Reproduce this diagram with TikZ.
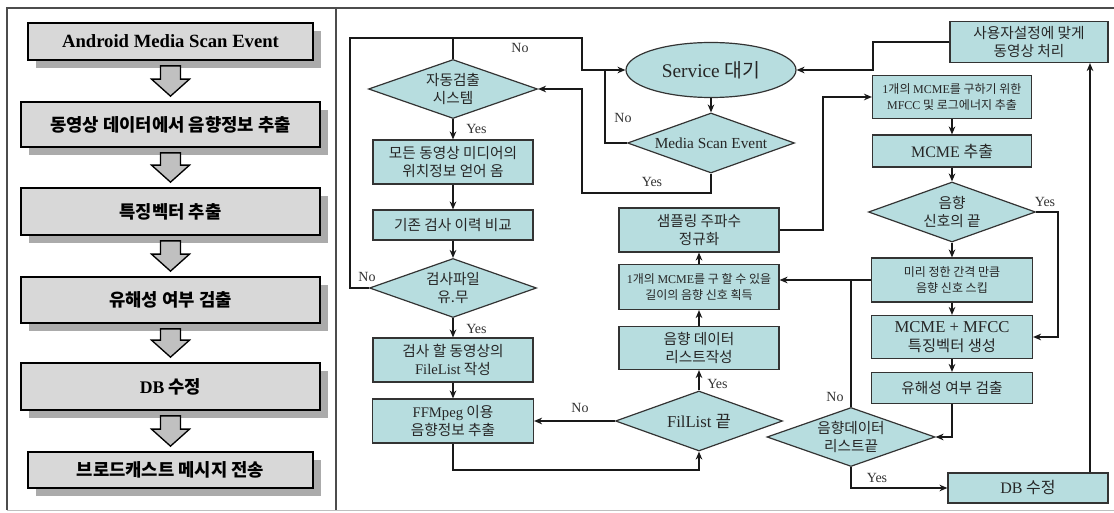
\documentclass[tikz,border=0pt]{standalone}
\usepackage{fontspec}
\setmainfont{Liberation Serif}
\newfontfamily\kr{Noto Sans CJK KR}
\usetikzlibrary{shapes.geometric,arrows.meta,calc,shadows}
\definecolor{tealbox}{RGB}{183,221,223}
\definecolor{lgray}{RGB}{216,216,216}
\definecolor{agray}{RGB}{192,192,192}
\newcommand\blockarrow[2]{%
  \draw[barr] ($(#1.south)+(-10,5)$) -- ($(#1.south)+(10,5)$) -- ($(#2.north)+(10,-22)$)
    -- ($(#2.north)+(19,-22)$) -- ($(#2.north)+(0,-5)$) -- ($(#2.north)+(-19,-22)$)
    -- ($(#2.north)+(-10,-22)$) -- cycle;}
\begin{document}
\begin{tikzpicture}[x=0.75pt,y=-0.75pt,
  sz/.style 2 args={minimum width=#1*0.75pt, minimum height=#2*0.75pt},
  lbox/.style={rectangle, draw=black, line width=1.3pt, fill=lgray, inner sep=0pt, align=center,
    drop shadow={shadow xshift=6pt, shadow yshift=-6pt, fill=black!60, opacity=0.55}},
  llat/.style={font=\bfseries\fontsize{14}{16}\selectfont},
  lkr/.style={font=\kr\bfseries\fontsize{13.3}{15}\selectfont},
  barr/.style={draw=black, line width=1pt, fill=agray, line join=miter},
  tbox/.style={rectangle, draw=black!80, line width=0.9pt, fill=tealbox, inner sep=0pt, align=center, text=black!85},
  tdia/.style={tbox, diamond, aspect=2.8},
  ktx/.style={font=\kr\fontsize{11}{13}\selectfont},
  ksm/.style={font=\kr\fontsize{9}{11.5}\selectfont},
  flow/.style={draw=black!90, line width=1pt},
  arr/.style={flow, -{Stealth[length=6pt,width=5pt]}},
  lab/.style={font=\fontsize{10.5}{12}\selectfont, text=black!80, inner sep=0pt},
]
\useasboundingbox (0,0) rectangle (1114,513);
\fill[white] (0,0) rectangle (1114,513);
% frame
\draw[black!70, line width=0.8pt] (7,510) -- (7,8) -- (1114,8);
\draw[black!70, line width=0.8pt] (336,8) -- (336,510);
\draw[black!25, line width=0.6pt] (7,510) -- (1114,510);

% ---------- left panel ----------
\node[lbox, sz={285}{37}, llat] (L1) at (170.5,41.5) {Android Media Scan Event};
\node[lbox, sz={299}{45}, lkr] (L2) at (170.5,124.5) {동영상 데이터에서 음향정보 추출};
\node[lbox, sz={299}{47}, lkr] (L3) at (170.5,211.5) {특징벡터 추출};
\node[lbox, sz={299}{46}, lkr] (L4) at (170.5,300) {유해성 여부 검출};
\node[lbox, sz={299}{47}, lkr] (L5) at (170.5,386.5) {{\rmfamily DB} 수정};
\node[lbox, sz={285}{36}, lkr] (L6) at (170.5,470) {브로드캐스트 메시지 전송};
\blockarrow{L1}{L2}
\blockarrow{L2}{L3}
\blockarrow{L3}{L4}
\blockarrow{L4}{L5}
\blockarrow{L5}{L6}

% ---------- right panel ----------
\node[tdia, sz={169}{59}, ktx] (auto) at (453,89) {자동검출\\시스템};
\node[tbox, sz={160}{44}, ktx] (loc) at (453,162) {모든 동영상 미디어의\\위치정보 얻어 옴};
\node[tbox, sz={160}{30}, ktx] (hist) at (453,225) {기존 검사 이력 비교};
\node[tdia, sz={167}{59}, ktx] (chk) at (453,288) {검사파일\\유.무};
\node[tbox, sz={160}{44}, ktx] (flist) at (453,360) {검사 할 동영상의\\{\rmfamily FileList} 작성};
\node[tbox, sz={161}{44}, ktx] (ffm) at (453,421) {{\rmfamily FFMpeg} 이용\\음향정보 추출};

\node[tbox, ellipse, sz={170}{55}, font=\fontsize{14.5}{16}\selectfont] (svc) at (711,70) {Service {\kr 대기}};
\node[tdia, sz={167}{60}, font=\fontsize{11.5}{13}\selectfont] (mse) at (711,143) {Media Scan Event};
\node[tbox, sz={160}{44}, ktx] (smp) at (699,230) {샘플링 주파수\\정규화};
\node[tbox, sz={160}{45}, ksm] (acq) at (699,287) {{\rmfamily 1}개의 {\rmfamily MCME}를 구 할 수 있을\\길이의 음향 신호 획득};
\node[tbox, sz={160}{43}, ktx] (alist) at (699,348) {음향 데이터\\리스트작성};
\node[tdia, sz={167}{60}, font=\fontsize{12.5}{14}\selectfont] (fend) at (699,421) {FilList {\kr 끝}};

\node[tbox, sz={158}{41}, ktx] (usr) at (1029,42) {사용자설정에 맞게\\동영상 처리};
\node[tbox, sz={159}{43}, ksm] (mfcc) at (952,97) {{\rmfamily 1}개의 {\rmfamily MCME}를 구하기 위한\\{\rmfamily MFCC} 및 로그에너지 추출};
\node[tbox, sz={159}{32}, font=\kr\fontsize{12}{14}\selectfont] (mcme) at (952,151) {{\rmfamily MCME} 추출};
\node[tdia, sz={167}{60}, ktx] (send) at (952,212) {음향\\신호의 끝};
\node[tbox, sz={161}{44}, ksm] (skip) at (952,280) {미리 정한 간격 만큼\\음향 신호 스킵};
\node[tbox, sz={161}{43}, font=\kr\fontsize{11.5}{14}\selectfont] (feat) at (952,337) {{\rmfamily\fontsize{12.5}{14}\selectfont MCME + MFCC}\\특징벡터 생성};
\node[tbox, sz={161}{31}, ktx] (harm) at (952,388) {유해성 여부 검출};
\node[tdia, sz={168}{59}, ktx] (dend) at (851,437) {음향데이터\\리스트끝};
\node[tbox, sz={160}{30}, font=\kr\fontsize{12}{14}\selectfont] (db) at (1028,488) {{\rmfamily DB} 수정};

\coordinate (tl) at (350,38);
\coordinate (tr) at (582,38);
\coordinate (mj) at (605,70);
\coordinate (yb) at (582,193);
\coordinate (fb) at (453,470);
\coordinate (sx) at (823,97);
\coordinate (yr) at (1058,212);
\coordinate (ux) at (1090,0);
\coordinate (uj) at (873,70);

% flow
\draw[arr] (auto.south) -- (loc.north);
\draw[arr] (loc.south) -- (hist.north);
\draw[arr] (hist.south) -- (chk.north);
\draw[arr] (chk.south) -- (flist.north);
\draw[arr] (flist.south) -- (ffm.north);
\draw[arr] (chk.west) -| (tl) -- (tr) |- (svc.west);
\draw[flow] (auto.north) -- (auto.north |- tl);
\draw[flow] (mse.west) -| (mj);
\draw[arr] (svc.south) -- (mse.north);
\draw[arr] (mse.south) |- (yb) |- (auto.east);
\draw[arr] (ffm.south) -- (ffm.south |- fb) -| (fend.south);
\draw[arr] (fend.west) -- (ffm.east);
\draw[arr] (fend.north) -- (alist.south);
\draw[arr] (alist.north) -- (acq.south);
\draw[arr] (acq.north) -- (smp.south);
\draw[arr] (smp.east) -| (sx) -- (mfcc.west);
\draw[arr] (mfcc.south) -- (mcme.north);
\draw[arr] (mcme.south) -- (send.north);
\draw[arr] (send.south) -- (skip.north);
\draw[arr] (send.east) -- (yr) |- (feat.east);
\draw[arr] (skip.south) -- (feat.north);
\draw[arr] (feat.south) -- (harm.north);
\draw[arr] (harm.south) |- (dend.east);
\draw[arr] (skip.west) -- (skip.west -| acq.east);
\draw[flow] (dend.north) -- (dend.north |- skip.west);
\draw[arr] (dend.south) |- (db.west);
\draw[arr] (db.north -| ux) -- (usr.south -| ux);
\draw[arr] (usr.west) -| (uj) -- (svc.east);

% labels
\node[lab] (n1) at (520,48) {No};
\node[lab] (n2) at (623,118) {No};
\node[lab] (y1) at (652,182) {Yes};
\node[lab, anchor=west] (y2) at ($(auto.south)+(13,10)$) {Yes};
\node[lab] (n3) at (367,277) {No};
\node[lab, anchor=west] (y3) at ($(chk.south)+(13,11)$) {Yes};
\node[lab] (n4) at (580,408) {No};
\node[lab, anchor=west] (y4) at ($(fend.north)+(8,-6)$) {Yes};
\node[lab] (y5) at (1045,202) {Yes};
\node[lab] (n5) at (835,397) {No};
\node[lab] (y6) at (877,478) {Yes};
\end{tikzpicture}
\end{document}
